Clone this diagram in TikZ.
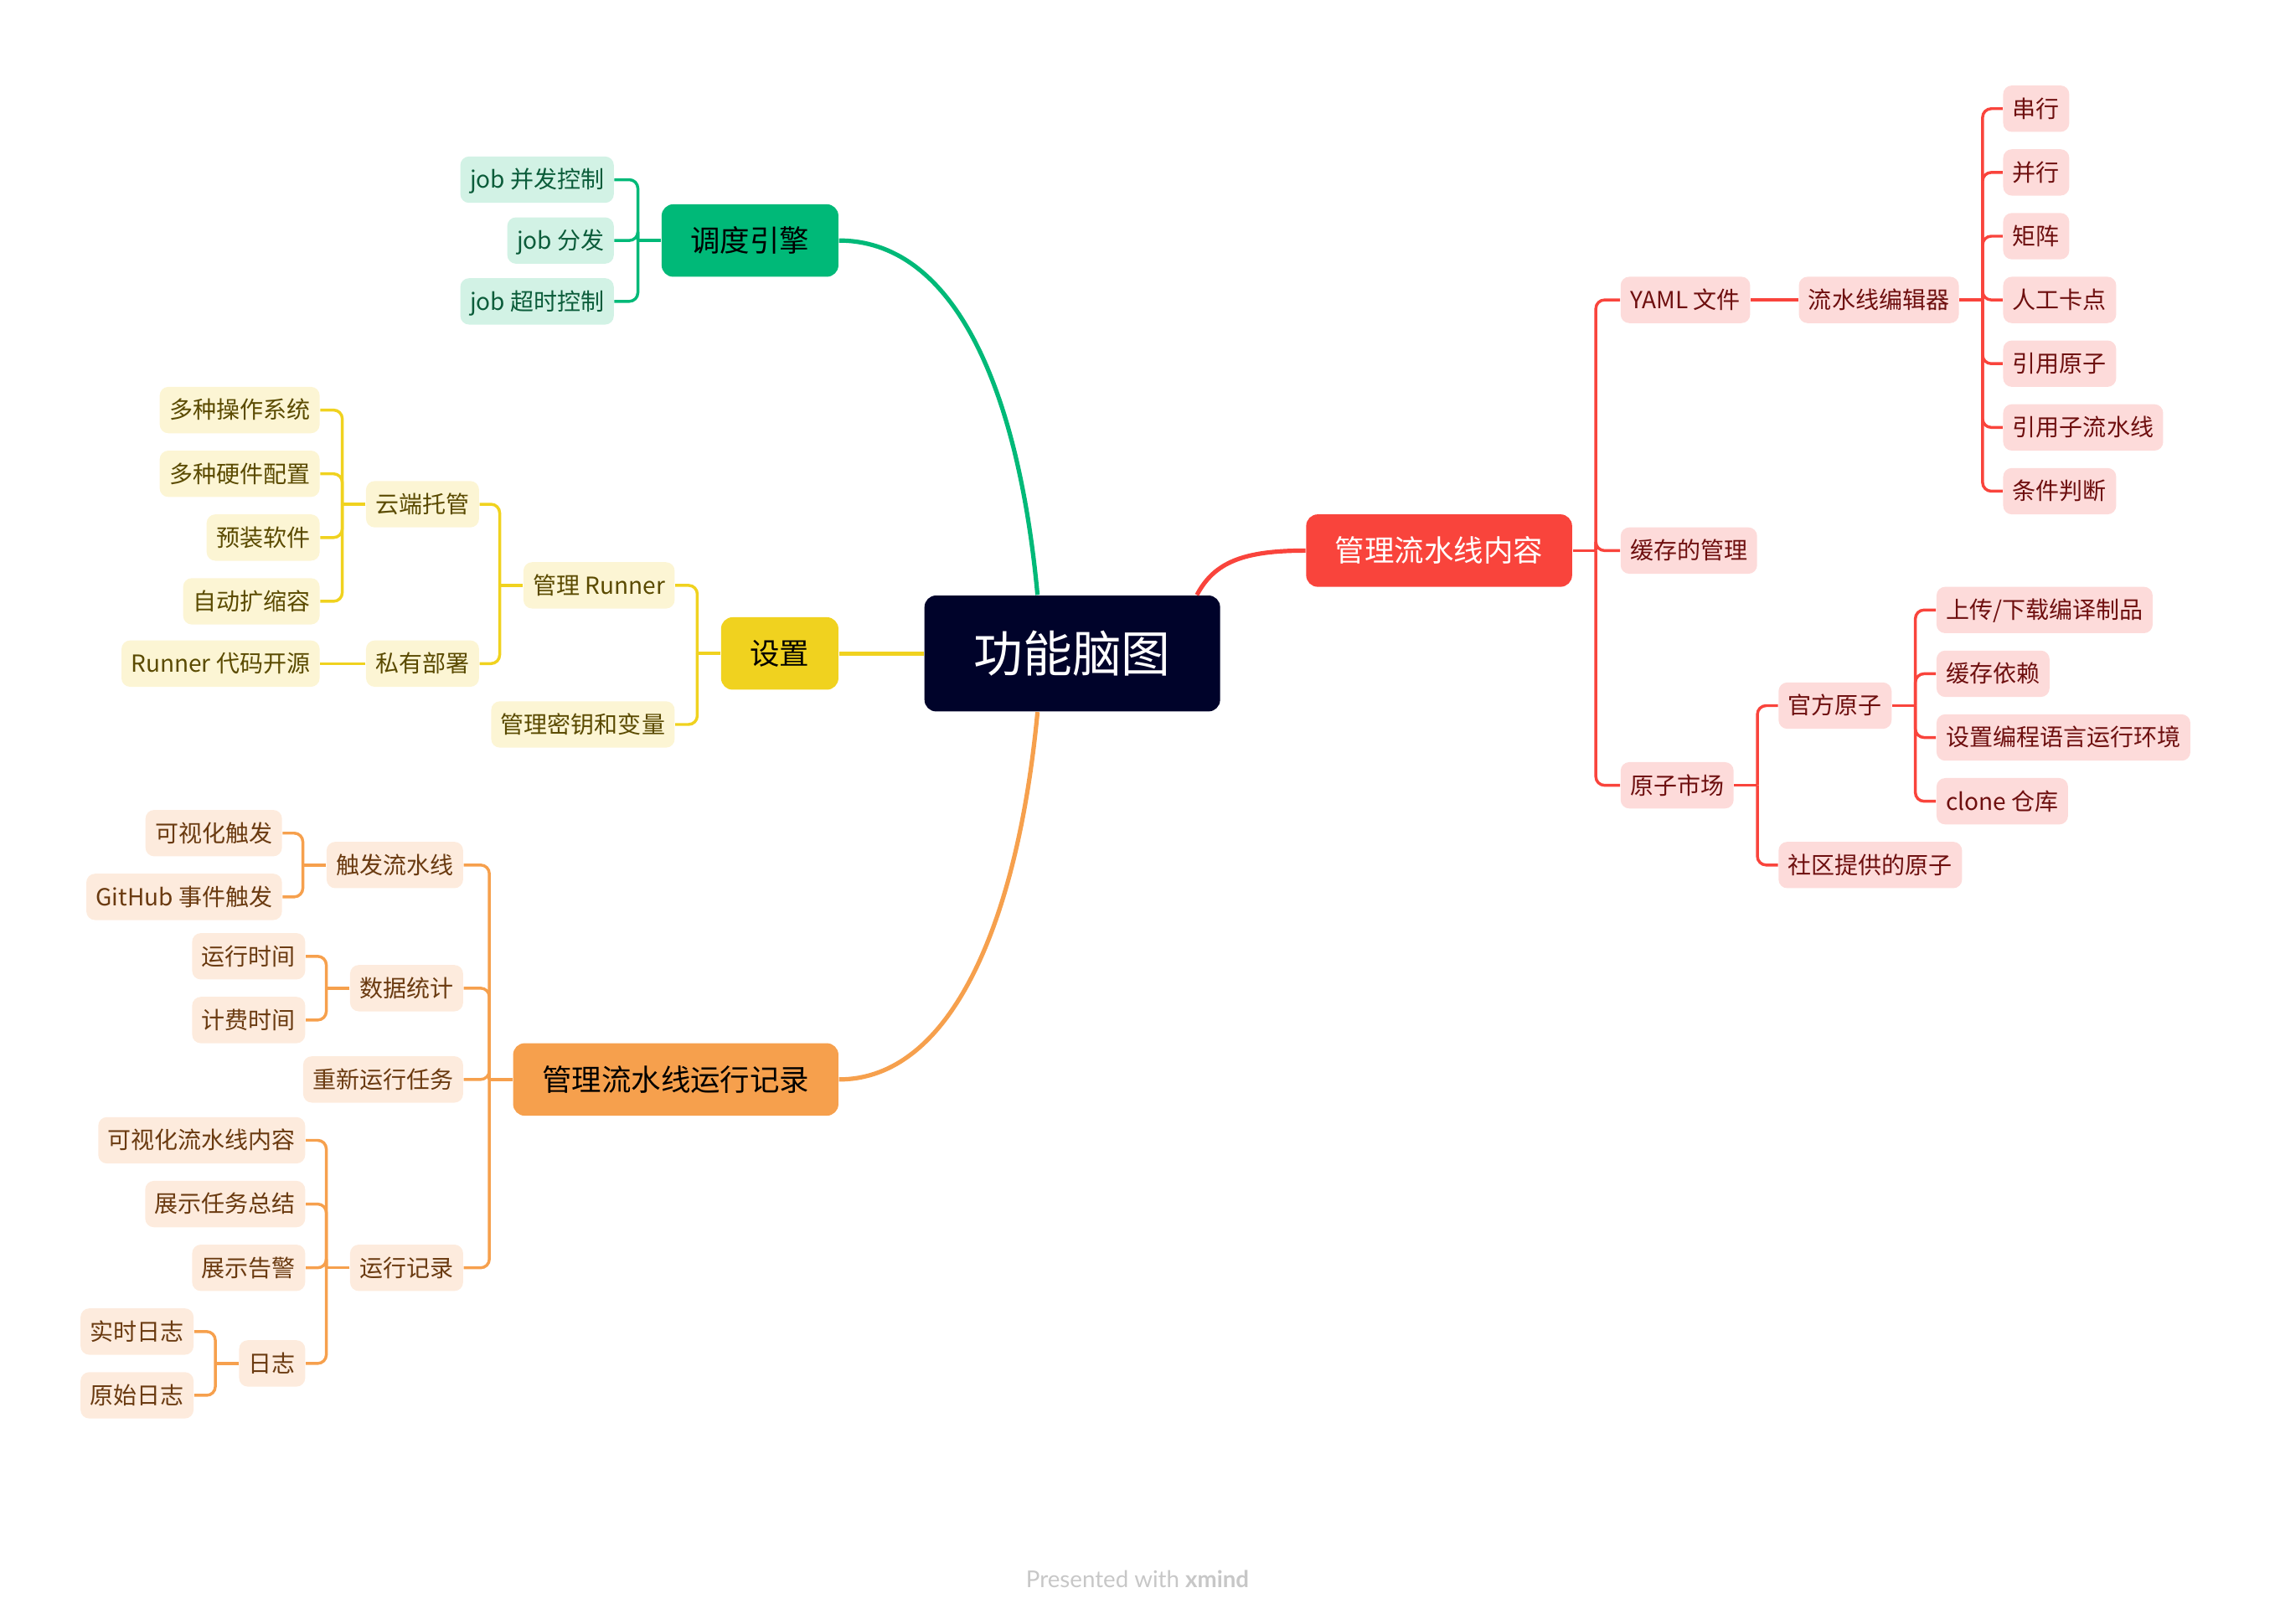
\documentclass[tikz,border=0pt]{standalone}
\usepackage{fontspec}
\setmainfont{Noto Sans CJK SC}
\newfontfamily\footfont{Lato}
\definecolor{navy}{HTML}{00032A}
\definecolor{gr}{HTML}{00B978}
\definecolor{grlt}{HTML}{D2F2E5}
\definecolor{grdk}{HTML}{0B5C3A}
\definecolor{yl}{HTML}{F0D21F}
\definecolor{yllt}{HTML}{FCF5D4}
\definecolor{yldk}{HTML}{5A4A00}
\definecolor{og}{HTML}{F6A04D}
\definecolor{oglt}{HTML}{FDEBDD}
\definecolor{ogdk}{HTML}{6A3A10}
\definecolor{rd}{HTML}{F9443C}
\definecolor{rdlt}{HTML}{FDDBDA}
\definecolor{rddk}{HTML}{6E0F0F}

\begin{document}
\begin{tikzpicture}[x=0.5pt,y=-0.5pt,
    root/.style={fill=navy, text=white, rounded corners=4pt, minimum width=102pt,
      minimum height=40pt, inner sep=0pt, text height=15pt, text depth=2pt,
      font=\fontsize{17}{20}\selectfont},
    topic/.style={fill=#1, rounded corners=4pt, minimum height=25pt, inner xsep=10pt,
      inner ysep=0pt, text height=9pt, text depth=1.3pt, font=\fontsize{10.25}{12}\selectfont},
    sub/.style={rounded corners=3pt, minimum height=16pt, inner xsep=3.3pt, inner ysep=0pt,
      text height=7pt, text depth=1pt, font=\fontsize{8.1}{10}\selectfont},
    gsub/.style={sub, fill=grlt, text=grdk, anchor=east},
    ysub/.style={sub, fill=yllt, text=yldk, anchor=east},
    osub/.style={sub, fill=oglt, text=ogdk, anchor=east},
    rsub/.style={sub, fill=rdlt, text=rddk, anchor=west},
    trunk/.style={draw=#1, line width=1.5pt},
    twig/.style={draw=#1, line width=1pt, rounded corners=3pt},
  ]
  \useasboundingbox (0,0) rectangle (1570,1120.3);

  % centre and main topics
  \node[root] (map) at (740,451) {功能脑图};
  \node[topic=gr, anchor=east] (sched) at (579,166) {调度引擎};
  \node[topic=yl, anchor=east] (setting) at (579,451) {设置};
  \node[topic=og, anchor=east] (records) at (579,745) {管理流水线运行记录};
  \node[topic=rd, text=white, anchor=west] (content) at (901,380) {管理流水线内容};

  \draw[trunk=gr] ([xshift=-12pt]map.north) .. controls (702,260) and (655,166) .. (sched.east);
  \draw[trunk=yl] (setting.east) -- (map.west);
  \draw[trunk=og] ([xshift=-12pt]map.south) .. controls (702,640) and (655,745) .. (records.east);
  \draw[trunk=rd] ([xshift=43pt]map.north) .. controls (838,388) and (858,380) .. (content.west);

  % scheduling
  \node[gsub] (jobpar) at (424,124) {job 并发控制};
  \node[gsub] (jobdis) at (424,166) {job 分发};
  \node[gsub] (jobto) at (424,208) {job 超时控制};
  \draw[twig=gr] (sched.west) -- ++(-8pt,0) coordinate (jsched);
  \foreach \c in {jobpar,jobdis,jobto}
    \draw[twig=gr] (jsched) |- (\c.east);

  % settings
  \node[ysub] (runner) at (466,404) {管理 Runner};
  \node[ysub] (secret) at (466,500) {管理密钥和变量};
  \node[ysub] (cloud) at (331,348) {云端托管};
  \node[ysub] (private) at (331,458) {私有部署};
  \node[ysub] (os) at (221,283) {多种操作系统};
  \node[ysub] (hw) at (221,327) {多种硬件配置};
  \node[ysub] (soft) at (221,371) {预装软件};
  \node[ysub] (scale) at (221,415) {自动扩缩容};
  \node[ysub] (open) at (221,458) {Runner 代码开源};
  \draw[twig=yl] (setting.west) -- ++(-8pt,0) coordinate (jset);
  \foreach \c in {runner,secret}
    \draw[twig=yl] (jset) |- (\c.east);
  \draw[twig=yl] (runner.west) -- ++(-8pt,0) coordinate (jrun);
  \foreach \c in {cloud,private}
    \draw[twig=yl] (jrun) |- (\c.east);
  \draw[twig=yl] (cloud.west) -- ++(-8pt,0) coordinate (jcloud);
  \foreach \c in {os,hw,soft,scale}
    \draw[twig=yl] (jcloud) |- (\c.east);
  \draw[twig=yl] (private.west) -- (open.east);

  % run records
  \node[osub] (trig) at (320,597) {触发流水线};
  \node[osub] (stat) at (320,682) {数据统计};
  \node[osub] (rerun) at (320,745) {重新运行任务};
  \node[osub] (runlog) at (320,875) {运行记录};
  \node[osub] (vistrig) at (195,575) {可视化触发};
  \node[osub] (ghtrig) at (195,619) {GitHub 事件触发};
  \node[osub] (runtime) at (211,660) {运行时间};
  \node[osub] (billtime) at (211,704) {计费时间};
  \node[osub] (visual) at (211,787) {可视化流水线内容};
  \node[osub] (summary) at (211,831) {展示任务总结};
  \node[osub] (alarm) at (211,875) {展示告警};
  \node[osub] (logs) at (211,941) {日志};
  \node[osub] (live) at (134,919) {实时日志};
  \node[osub] (raw) at (134,963) {原始日志};
  \draw[twig=og] (records.west) -- ++(-8pt,0) coordinate (jrec);
  \foreach \c in {trig,stat,rerun,runlog}
    \draw[twig=og] (jrec) |- (\c.east);
  \draw[twig=og] (trig.west) -- ++(-8pt,0) coordinate (jtrig);
  \foreach \c in {vistrig,ghtrig}
    \draw[twig=og] (jtrig) |- (\c.east);
  \draw[twig=og] (stat.west) -- ++(-8pt,0) coordinate (jstat);
  \foreach \c in {runtime,billtime}
    \draw[twig=og] (jstat) |- (\c.east);
  \draw[twig=og] (runlog.west) -- ++(-8pt,0) coordinate (jlog);
  \foreach \c in {visual,summary,alarm,logs}
    \draw[twig=og] (jlog) |- (\c.east);
  \draw[twig=og] (logs.west) -- ++(-8pt,0) coordinate (jlogs);
  \foreach \c in {live,raw}
    \draw[twig=og] (jlogs) |- (\c.east);

  % pipeline content
  \node[rsub] (yaml) at (1118,207) {YAML 文件};
  \node[rsub] (cache) at (1118,380) {缓存的管理};
  \node[rsub] (market) at (1118,542) {原子市场};
  \node[rsub] (editor) at (1241,207) {流水线编辑器};
  \node[rsub] (serial) at (1382,75) {串行};
  \node[rsub] (parallel) at (1382,119) {并行};
  \node[rsub] (matrix) at (1382,163) {矩阵};
  \node[rsub] (manual) at (1382,207) {人工卡点};
  \node[rsub] (refatom) at (1382,251) {引用原子};
  \node[rsub] (refsub) at (1382,295) {引用子流水线};
  \node[rsub] (cond) at (1382,339) {条件判断};
  \node[rsub] (official) at (1227,487) {官方原子};
  \node[rsub] (community) at (1227,597) {社区提供的原子};
  \node[rsub] (upload) at (1336,421) {上传/下载编译制品};
  \node[rsub] (depcache) at (1336,465) {缓存依赖};
  \node[rsub] (langenv) at (1336,509) {设置编程语言运行环境};
  \node[rsub] (clone) at (1336,553) {clone 仓库};
  \draw[twig=rd] (content.east) -- ++(8pt,0) coordinate (jcont);
  \foreach \c in {yaml,cache,market}
    \draw[twig=rd] (jcont) |- (\c.west);
  \draw[twig=rd] (yaml.east) -- (editor.west);
  \draw[twig=rd] (editor.east) -- ++(8pt,0) coordinate (jedit);
  \foreach \c in {serial,parallel,matrix,manual,refatom,refsub,cond}
    \draw[twig=rd] (jedit) |- (\c.west);
  \draw[twig=rd] (market.east) -- ++(8pt,0) coordinate (jmarket);
  \foreach \c in {official,community}
    \draw[twig=rd] (jmarket) |- (\c.west);
  \draw[twig=rd] (official.east) -- ++(8pt,0) coordinate (joff);
  \foreach \c in {upload,depcache,langenv,clone}
    \draw[twig=rd] (joff) |- (\c.west);

  \node[font=\footfont\fontsize{8}{10}\selectfont, text=black!22] (credit) at (785,1090)
    {Presented with \textbf{xmind}};
\end{tikzpicture}
\end{document}
